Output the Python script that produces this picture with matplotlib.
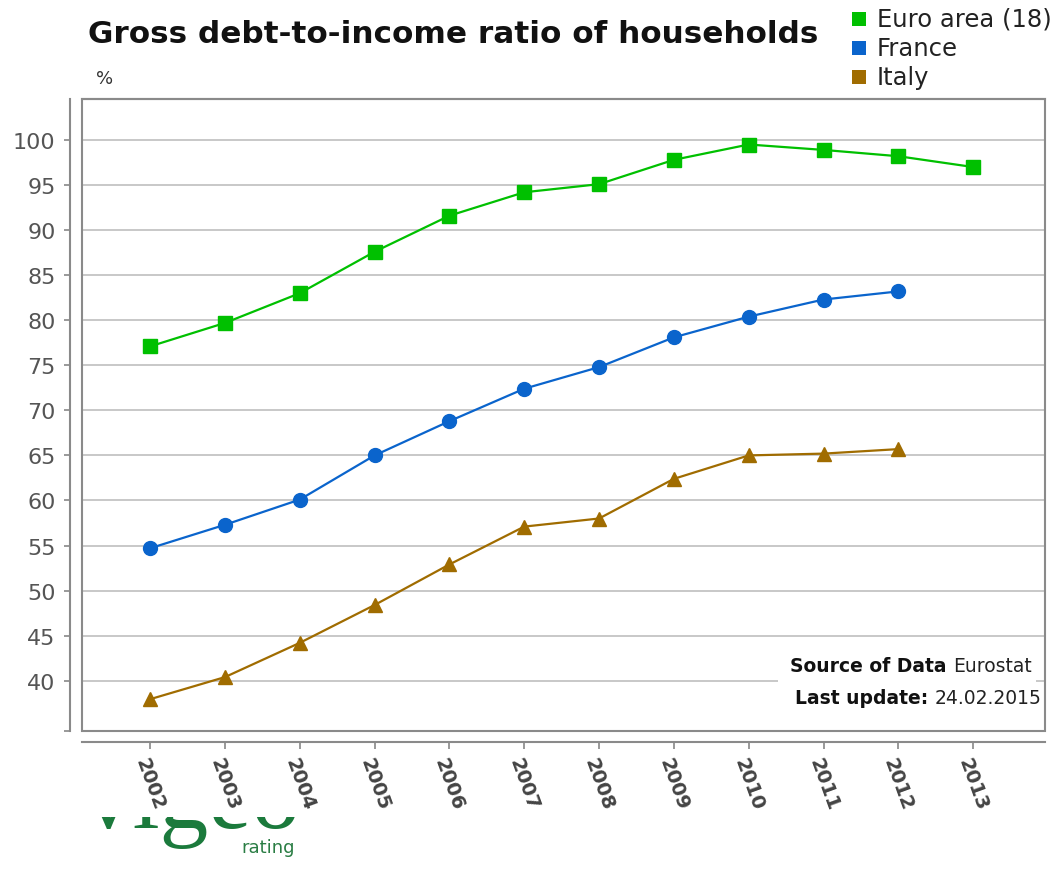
import matplotlib
matplotlib.use('Agg')
import matplotlib.pyplot as plt
from matplotlib.patches import Rectangle

# Gross debt-to-income ratio of households (%), Eurostat
years = list(range(2002, 2014))
euro_area = [77.1, 79.7, 83.0, 87.6, 91.6, 94.2, 95.1, 97.8, 99.5, 98.9, 98.2, 97.0]
france = [54.7, 57.3, 60.1, 65.0, 68.8, 72.4, 74.8, 78.1, 80.4, 82.3, 83.2]
italy = [37.95, 40.4, 44.2, 48.4, 52.9, 57.1, 58.0, 62.4, 65.0, 65.2, 65.7]

series_names = ['Euro area (18)', 'France', 'Italy']
series_colors = ['#00c000', '#0a64cc', '#a06c00']
series_markers = ['s', 'o', '^']
y_ticks = list(range(40, 101, 5))

W, H = 1056, 878
fig = plt.figure(figsize=(W / 100, H / 100), dpi=100)
fig.patch.set_facecolor('white')

def fx(px):
    return px / W

def fy(py):
    return 1 - py / H

# logo strip at the bottom, cut off by the chart above it
ax_logo = fig.add_axes([0, 0, 1, fy(818)])
ax_logo.set_axis_off()
ax_logo.set_xlim(0, W)
ax_logo.set_ylim(H, 818)
ax_logo.text(84, 828, 'vigeo', fontsize=70, family='Liberation Serif',
             color='#1b7a3c', ha='left', va='baseline', clip_on=True)
ax_logo.text(241, 853, 'rating', fontsize=13, family='Liberation Sans Narrow',
             color='#2a7d44', ha='left', va='baseline', clip_on=True)

ax = fig.add_axes([fx(82), fy(732), fx(1045) - fx(82), fy(100) - fy(732)])

# spines first: moving them resets the ticks
for side, off in [('left', 9), ('bottom', 8), ('right', 9)]:
    ax.spines[side].set_position(('outward', off))
for s in ax.spines.values():
    s.set_color('#8a8a8a')
    s.set_linewidth(1.5)

for vals, name, col, mk in zip([euro_area, france, italy], series_names,
                               series_colors, series_markers):
    ax.plot(years[:len(vals)], vals, color=col, lw=1.6, marker=mk, ms=10,
            mec=col, mfc=col, zorder=3, label=name)

ax.set_xlim(2001.09, 2013.96)
ax.set_ylim(34.42, 104.55)
ax.set_yticks(y_ticks)
ax.set_xticks(years)
ax.set_xticklabels([str(y) for y in years], rotation=-70, ha='center', va='top',
                   fontsize=14, fontweight='bold', color='#444444')
ax.tick_params(axis='y', labelsize=16, labelcolor='#555555', length=4,
               width=1.2, color='#888888', right=True, labelright=False, pad=6)
ax.tick_params(axis='x', length=5, width=1.2, color='#888888', pad=4)
ax.set_yticks([34.42], minor=True)
ax.tick_params(axis='y', which='minor', length=4, width=1.2, color='#888888')

ax.set_axisbelow(True)
ax.grid(axis='y', color='#c4c4c4', lw=1.3)

# inner plot frame
ax.add_patch(Rectangle((0, 0), 1, 1, transform=ax.transAxes, fill=False,
                       edgecolor='#8a8a8a', lw=1.5, clip_on=False, zorder=4))

# source box
ax.add_patch(Rectangle((0.723, 0.027), 0.268, 0.108, transform=ax.transAxes,
                       facecolor='white', edgecolor='none', zorder=1))
t1 = ax.text(0.986, 0.095, 'Eurostat', transform=ax.transAxes, ha='right',
             va='baseline', fontsize=13.5, family='DejaVu Sans Condensed', color='#222222', zorder=5)
ax.annotate('Source of Data ', xy=(0, 0), xycoords=t1, ha='right', va='bottom',
            fontsize=13.5, fontweight='bold', family='DejaVu Sans Condensed', color='#111111', zorder=5)
t2 = ax.text(0.9965, 0.044, '24.02.2015', transform=ax.transAxes, ha='right',
             va='baseline', fontsize=13.5, family='DejaVu Sans Condensed', color='#222222', zorder=5)
ax.annotate('Last update: ', xy=(0, 0), xycoords=t2, ha='right', va='bottom',
            fontsize=13.5, fontweight='bold', family='DejaVu Sans Condensed', color='#111111', zorder=5)

# title, unit and legend
fig.text(fx(88), fy(43), 'Gross debt-to-income ratio of households', fontsize=22.4,
         fontweight='bold', color='#111111', ha='left', va='baseline')
fig.text(fx(96), fy(84), '%', fontsize=13, color='#333333', ha='left', va='baseline')

for i, (name, col) in enumerate(zip(series_names, series_colors)):
    yc = 20 + i * 29
    fig.add_artist(Rectangle((fx(852), fy(yc + 7)), fx(14), fy(yc - 7) - fy(yc + 7),
                             transform=fig.transFigure, facecolor=col, edgecolor='none'))
    fig.text(fx(877), fy(yc), name, fontsize=17.5, color='#222222',
             ha='left', va='center')

fig.savefig('out.png', dpi=100, facecolor='white')
